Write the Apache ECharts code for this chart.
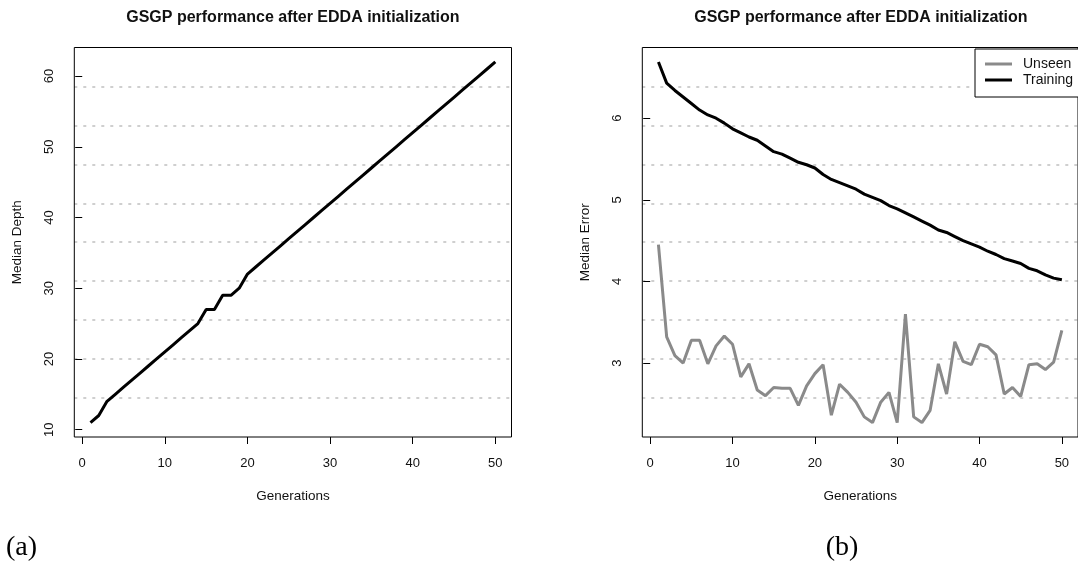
<!DOCTYPE html>
<html>
<head>
<meta charset="utf-8">
<script src="https://cdn.jsdelivr.net/npm/echarts@6/dist/echarts.min.js"></script>
<style>
html,body{margin:0;padding:0;background:#fff;}
#chart{width:1078px;height:564px;}
</style>
</head>
<body>
<div id="chart"></div>
<script>
const generations = [1,2,3,4,5,6,7,8,9,10,11,12,13,14,15,16,17,18,19,20,21,22,23,24,25,26,27,28,29,30,31,32,33,34,35,36,37,38,39,40,41,42,43,44,45,46,47,48,49,50];
const medianDepth = [11,12,14,15,16,17,18,19,20,21,22,23,24,25,27,27,29,29,30,32,33,34,35,36,37,38,39,40,41,42,43,44,45,46,47,48,49,50,51,52,53,54,55,56,57,58,59,60,61,62];
const unseenError = [4.45,3.32,3.09,3.00,3.28,3.28,2.99,3.21,3.33,3.23,2.83,2.99,2.67,2.60,2.70,2.69,2.69,2.48,2.72,2.87,2.98,2.36,2.74,2.64,2.52,2.34,2.27,2.52,2.64,2.27,3.60,2.34,2.27,2.42,2.99,2.62,3.26,3.02,2.98,3.23,3.20,3.10,2.62,2.70,2.59,2.98,2.99,2.92,3.01,3.40];
const trainingError = [6.69,6.43,6.34,6.26,6.18,6.10,6.04,6.00,5.94,5.87,5.82,5.77,5.73,5.66,5.59,5.56,5.51,5.46,5.43,5.39,5.31,5.25,5.21,5.17,5.13,5.07,5.03,4.99,4.93,4.89,4.84,4.79,4.74,4.69,4.63,4.60,4.55,4.50,4.46,4.42,4.37,4.33,4.28,4.25,4.22,4.16,4.13,4.08,4.04,4.02];
const genTicks = [0,10,20,30,40,50];
const depthTicks = [10,20,30,40,50,60];
const errorTicks = [3,4,5,6];
const titleText = 'GSGP performance after EDDA initialization';
const seriesNames = ['Unseen','Training'];

// R-style default axis range: data range extended by 4% on each side
function rRange(vals){
  const lo = Math.min.apply(null, vals), hi = Math.max.apply(null, vals);
  const pad = (hi - lo) * 0.04;
  return [lo - pad, hi + pad];
}
const xr = rRange(generations);
const yrL = rRange(medianDepth);
const yrR = rRange(unseenError.concat(trainingError));
const pairs = (ys) => generations.map((g, i) => [g, ys[i]]);

const SANS = '"Liberation Sans", Arial, sans-serif';
const TXT = '#111';
const GRID_TOP = 47.5, GRID_H = 389.5, GRID_W = 437.2;
const grids = [
  {left: 74.3, top: GRID_TOP, width: GRID_W, height: GRID_H, show: true, borderColor: '#000', borderWidth: 1, backgroundColor: 'transparent', z: 2},
  {left: 642.3, top: GRID_TOP, width: GRID_W, height: GRID_H, show: true, borderColor: '#000', borderWidth: 1, backgroundColor: 'transparent', z: 2}
];

function xAxisFor(gi){
  return {
    gridIndex: gi, type: 'value', min: xr[0], max: xr[1],
    axisLine: {show: false},
    axisTick: {show: true, length: 7, customValues: genTicks, lineStyle: {color: '#000', width: 1}},
    axisLabel: {customValues: genTicks, margin: 20, fontSize: 13, fontFamily: SANS, color: TXT},
    splitLine: {show: false},
    name: 'Generations', nameLocation: 'middle', nameGap: 52,
    nameTextStyle: {fontSize: 13.5, fontFamily: SANS, color: TXT}
  };
}
function yAxisFor(gi, range, ticks, name){
  return {
    gridIndex: gi, type: 'value', min: range[0], max: range[1],
    axisLine: {show: false},
    axisTick: {show: true, length: 7, customValues: ticks, lineStyle: {color: '#000', width: 1}},
    axisLabel: {customValues: ticks, margin: 18, rotate: 90, fontSize: 13, fontFamily: SANS, color: TXT},
    splitLine: {show: false},
    name: name, nameLocation: 'middle', nameGap: 50,
    nameTextStyle: {fontSize: 13.5, fontFamily: SANS, color: TXT}
  };
}
// dotted grid: the plot height split into 10 equal parts (inner 9 lines only)
function gridLineAxis(gi, range){
  return {
    gridIndex: gi, type: 'value', min: range[0], max: range[1],
    interval: (range[1] - range[0]) / 10 * (1 + 1e-9),
    z: 0,
    axisLine: {show: false}, axisTick: {show: false}, axisLabel: {show: false},
    splitLine: {show: true, showMinLine: false, showMaxLine: false,
      lineStyle: {color: '#cfcfcf', width: 2, type: [3, 6]}}
  };
}

const chart = echarts.init(document.getElementById('chart'), null, {renderer: 'canvas'});
chart.setOption({
  animation: false,
  backgroundColor: '#fff',
  title: [
    {text: titleText, left: 292.9, top: 9.5, textAlign: 'center', padding: 0,
     textStyle: {fontSize: 16, fontWeight: 'bold', fontFamily: SANS, color: TXT}},
    {text: titleText, left: 860.9, top: 9.5, textAlign: 'center', padding: 0,
     textStyle: {fontSize: 16, fontWeight: 'bold', fontFamily: SANS, color: TXT}}
  ],
  grid: grids,
  xAxis: [xAxisFor(0), xAxisFor(1)],
  yAxis: [
    yAxisFor(0, yrL, depthTicks, 'Median Depth'),
    gridLineAxis(0, yrL),
    yAxisFor(1, yrR, errorTicks, 'Median Error'),
    gridLineAxis(1, yrR)
  ],
  legend: {
    data: seriesNames, orient: 'vertical', left: 975, top: 49, z: 10,
    icon: 'rect', itemWidth: 27, itemHeight: 3, itemGap: 0,
    padding: [7, 120, 9, 10],
    borderColor: '#000', borderWidth: 1, borderRadius: 0, backgroundColor: '#fff',
    textStyle: {fontSize: 14, lineHeight: 16, fontFamily: SANS, color: TXT, padding: [0, 0, 0, 6]}
  },
  series: [
    {name: 'Median Depth', type: 'line', xAxisIndex: 0, yAxisIndex: 0, data: pairs(medianDepth),
     symbol: 'none', lineStyle: {color: '#000', width: 3}, itemStyle: {color: '#000'}, z: 5},
    {name: 'Unseen', type: 'line', xAxisIndex: 1, yAxisIndex: 2, data: pairs(unseenError),
     symbol: 'none', lineStyle: {color: '#8a8a8a', width: 3}, itemStyle: {color: '#8a8a8a'}, z: 5},
    {name: 'Training', type: 'line', xAxisIndex: 1, yAxisIndex: 2, data: pairs(trainingError),
     symbol: 'none', lineStyle: {color: '#000', width: 3}, itemStyle: {color: '#000'}, z: 5}
  ],
  graphic: [
    {type: 'text', x: 6, y: 548, style: {text: '(a)', fill: '#000', fontSize: 28, fontFamily: '"Liberation Serif", "DejaVu Serif", serif', align: 'left', verticalAlign: 'middle'}},
    {type: 'text', x: 842, y: 548, style: {text: '(b)', fill: '#000', fontSize: 28, fontFamily: '"Liberation Serif", "DejaVu Serif", serif', align: 'center', verticalAlign: 'middle'}}
  ]
});
</script>
</body>
</html>
